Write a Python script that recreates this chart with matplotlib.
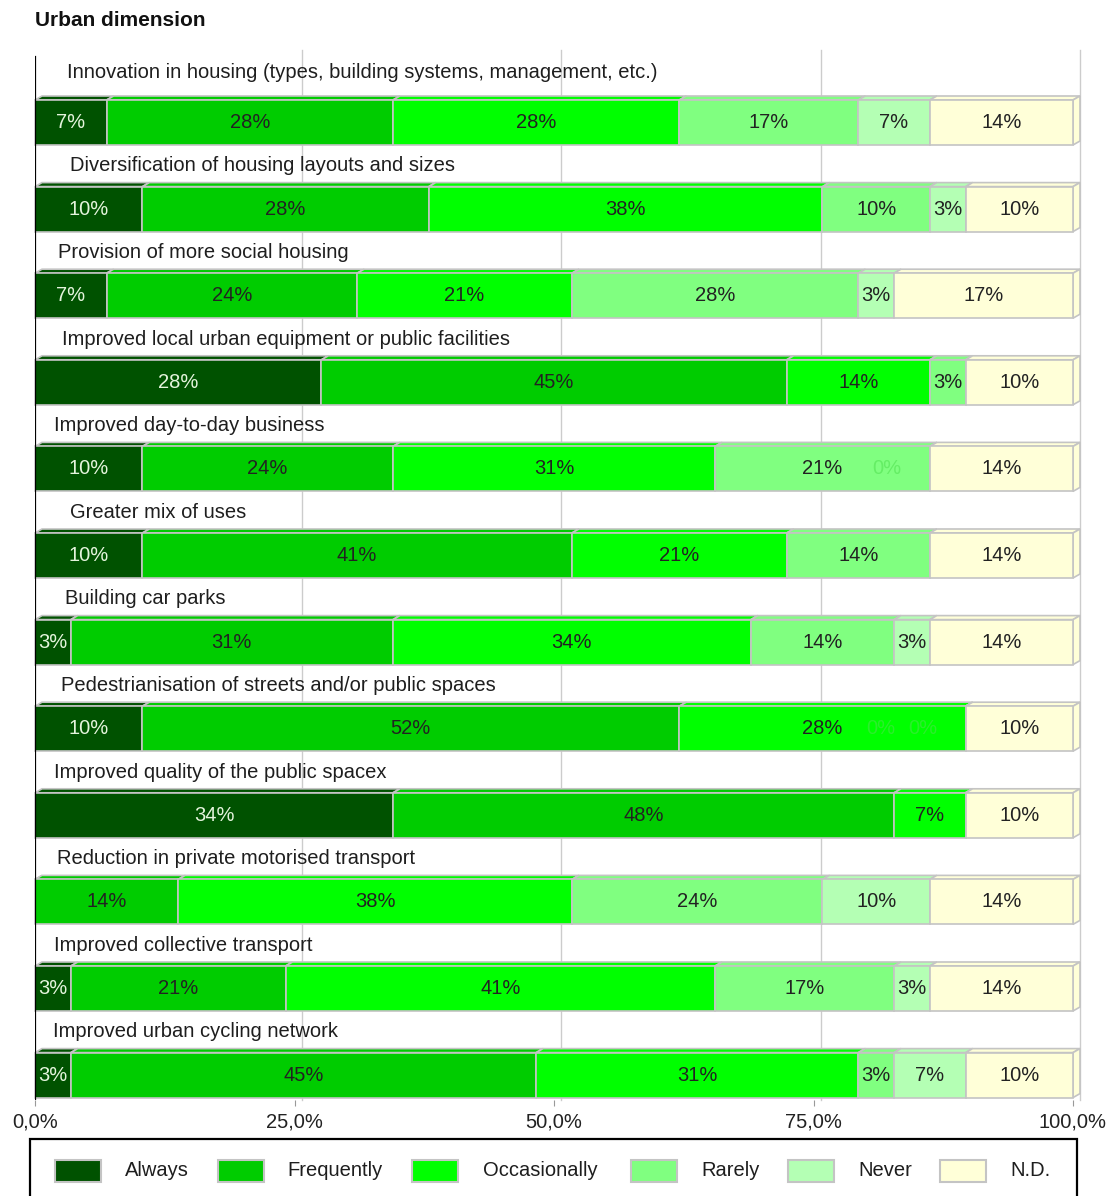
import matplotlib
matplotlib.use("Agg")
import matplotlib.pyplot as plt
from matplotlib.patches import Polygon, Rectangle

plt.rcParams["font.family"] = ["Liberation Sans", "DejaVu Sans"]

# --- data: number of respondents per answer (29 cities answered) -----------
n_resp = 29
items = [
    "Innovation in housing (types, building systems, management, etc.)",
    "Diversification of housing layouts and sizes",
    "Provision of more social housing",
    "Improved local urban equipment or public facilities",
    "Improved day-to-day business",
    "Greater mix of uses",
    "Building car parks",
    "Pedestrianisation of streets and/or public spaces",
    "Improved quality of the public spacex",
    "Reduction in private motorised transport",
    "Improved collective transport",
    "Improved urban cycling network",
]
answers = ["Always", "Frequently", "Occasionally", "Rarely", "Never", "N.D."]
always       = [2, 3, 2, 8, 3, 3, 1, 3, 10, 0, 1, 1]
frequently   = [8, 8, 7, 13, 7, 12, 9, 15, 14, 4, 6, 13]
occasionally = [8, 11, 6, 4, 9, 6, 10, 8, 2, 11, 12, 9]
rarely       = [5, 3, 8, 1, 6, 4, 4, 0, 0, 7, 5, 1]
never        = [2, 1, 1, 0, 0, 0, 1, 0, 0, 3, 1, 2]
no_data      = [4, 3, 5, 3, 4, 4, 4, 3, 3, 4, 4, 3]
series = [always, frequently, occasionally, rarely, never, no_data]

# zero answers whose (faint) label is still printed: (row, answer)
zero_labels = [(4, "Never"), (7, "Rarely"), (7, "Never")]

colors = ["#005200", "#00cc00", "#00ff00", "#80ff80", "#b4ffb4", "#ffffd8"]
text_colors = ["#e4f4dc", "#222222", "#222222", "#222222", "#222222", "#222222"]
edge = "#c4c4c4"

# --- layout ---------------------------------------------------------------
W, H = 1114, 1196
px_x0, px_x1 = 35, 1073          # 0 % and 100 % on the front plane
px_top, px_bot = 50, 1100
row_px = 86.6
first_row_px = 122.5
bar_h = 45 / row_px
depth_x = 7 / ((px_x1 - px_x0) / 100)   # 3D depth in data units
depth_y = 4 / row_px
label_indent = [3.1, 3.4, 2.2, 2.6, 1.8, 3.4, 2.9, 2.5, 1.8, 2.1, 1.8, 1.7]

fig = plt.figure(figsize=(W / 100, H / 100), dpi=100)
ax = fig.add_axes([px_x0 / W, 1 - px_bot / H, (px_x1 - px_x0) / W, (px_bot - px_top) / H])
ax.set_xlim(0, 100)
ax.set_ylim((px_bot - first_row_px) / row_px, (px_top - first_row_px) / row_px)
for s in ax.spines.values():
    s.set_visible(False)
ax.set_yticks([])

# vertical grid sits on the back wall, shifted by the depth
for g in (25, 50, 75, 100):
    ax.axvline(g + depth_x, color="#cccccc", lw=1.0, zorder=0, clip_on=False)
ax.axvline(0, ymin=0.0, ymax=(px_bot - 57) / (px_bot - px_top), color="black", lw=1.6, zorder=5)

ax.set_xticks([0, 25, 50, 75, 100])
ax.set_xticklabels(["0,0%", "25,0%", "50,0%", "75,0%", "100,0%"], fontsize=14.5, color="#222222")
ax.tick_params(axis="x", length=4, color="#999999", pad=5)

for i, name in enumerate(items):
    y = i
    top = y - bar_h / 2
    left = 0.0
    for k, vals in enumerate(series):
        pct = 100 * vals[i] / n_resp
        # top face
        ax.add_patch(Polygon([(left, top), (left + pct, top),
                              (left + pct + depth_x, top - depth_y), (left + depth_x, top - depth_y)],
                             closed=True, facecolor=colors[k], edgecolor=edge, lw=1.2,
                             zorder=2, clip_on=False))
        ax.add_patch(Rectangle((left, top), pct, bar_h, facecolor=colors[k],
                               edgecolor=edge, lw=1.2, zorder=3, clip_on=False))
        if vals[i] > 0:
            ax.text(left + pct / 2, y, f"{round(pct)}%", ha="center", va="center",
                    fontsize=14.5, color=text_colors[k], zorder=6)
        left += pct
    # right side face of the stack
    ax.add_patch(Polygon([(left, top), (left + depth_x, top - depth_y),
                          (left + depth_x, top + bar_h - depth_y), (left, top + bar_h)],
                         closed=True, facecolor=colors[-1], edgecolor=edge, lw=1.2,
                         zorder=2, clip_on=False))

    lift = 0.58 if i == 0 else 0.5
    ax.text(label_indent[i], y - lift, name, ha="left", va="center", fontsize=14.5,
            color="#1e1e1e", zorder=6)

# faint labels for zero answers, stacked left of the segment boundary
for i, ans in zero_labels:
    k = answers.index(ans)
    edge_pct = 100 * sum(s[i] for s in series[:k]) / n_resp
    run = 0
    for kk in range(k, len(series)):
        if series[kk][i] == 0:
            run += 1
        else:
            break
    ax.text(edge_pct - run * 4.1, i, "0%", ha="center", va="center", fontsize=14.5,
            color="#4fe04f", alpha=0.55, zorder=6)

fig.text(35 / W, 1 - 20 / H, "Urban dimension", fontsize=15, weight="bold",
         ha="left", va="center", color="#111111")

# legend box along the bottom
fig.add_artist(Rectangle((30 / W, 1 - 1205 / H), 1047 / W, 66 / H, transform=fig.transFigure,
                         facecolor="white", edgecolor="black", lw=1.6))
patch_x = [55, 218, 412, 631, 788, 940]
label_x = [125, 287, 483, 701, 858, 1010]
for k, ans in enumerate(answers):
    fig.add_artist(Rectangle((patch_x[k] / W, 1 - 1182 / H), 46 / W, 22 / H,
                             transform=fig.transFigure, facecolor=colors[k],
                             edgecolor=edge, lw=1.5))
    fig.text(label_x[k] / W, 1 - 1171 / H, ans, fontsize=14.5, ha="left", va="center",
             color="#1e1e1e")

fig.savefig("out.png", dpi=100)
